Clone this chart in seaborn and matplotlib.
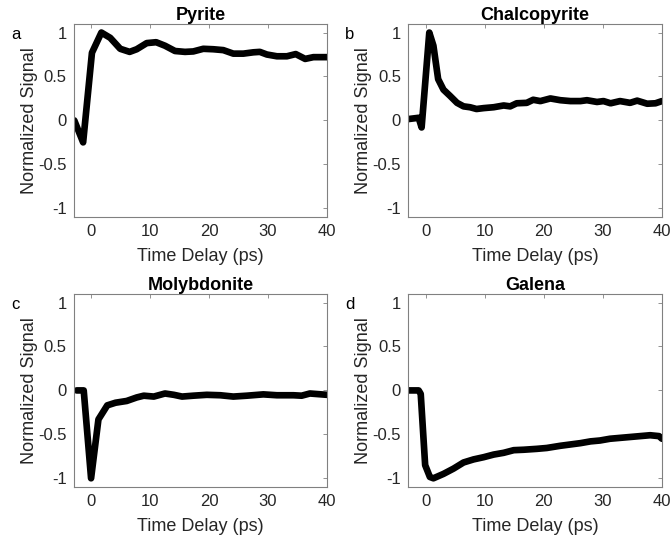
import matplotlib
matplotlib.use("Agg")
import matplotlib.pyplot as plt
import seaborn as sns
import pandas as pd

# ---------------------------------------------------------------------------
# values
pyrite_t = [-2.9, -1.4, 0.1, 1.7, 3.2, 4.9, 6.5, 7.7, 9.4, 11.0, 12.5, 14.2, 15.9,
            17.3, 19.0, 20.7, 22.4, 24.1, 25.8, 27.5, 28.6, 29.8, 31.5, 33.2, 34.7,
            36.3, 37.7, 40.0]
pyrite_s = [0.0, -0.25, 0.77, 1.0, 0.94, 0.815, 0.78, 0.81, 0.88, 0.89, 0.85, 0.79,
            0.78, 0.785, 0.815, 0.81, 0.80, 0.76, 0.76, 0.775, 0.78, 0.75, 0.73,
            0.73, 0.755, 0.70, 0.72, 0.72]

chalco_t = [-3.0, -1.2, -0.7, 0.6, 1.3, 2.1, 3.0, 4.1, 5.3, 6.4, 7.5, 8.6, 9.8,
            11.5, 13.2, 14.3, 15.4, 17.1, 18.2, 19.4, 21.1, 22.8, 24.5, 26.2,
            27.3, 29.0, 30.1, 31.3, 32.9, 34.6, 35.8, 37.5, 38.9, 40.0]
chalco_s = [0.015, 0.03, -0.08, 1.0, 0.85, 0.47, 0.35, 0.28, 0.2, 0.16, 0.15, 0.13,
            0.14, 0.15, 0.17, 0.16, 0.195, 0.2, 0.235, 0.22, 0.25, 0.23, 0.22,
            0.22, 0.23, 0.21, 0.22, 0.195, 0.22, 0.2, 0.225, 0.19, 0.195, 0.22]

molyb_t = [-2.5, -1.3, -0.05, 1.2, 2.7, 4.1, 6.0, 7.7, 8.9, 10.6, 12.5, 14.0, 15.4,
           17.3, 19.6, 21.9, 24.1, 26.4, 29.2, 31.5, 34.3, 35.7, 37.1, 40.0]
molyb_s = [0.0, 0.0, -1.0, -0.33, -0.17, -0.14, -0.12, -0.08, -0.06, -0.07, -0.035,
           -0.05, -0.07, -0.06, -0.05, -0.055, -0.07, -0.06, -0.045, -0.055,
           -0.055, -0.06, -0.035, -0.05]

galena_t = [-3.0, -1.2, -0.85, -0.1, 0.7, 1.3, 3.0, 4.7, 6.4, 8.1, 9.8, 11.5, 13.2,
            14.9, 16.6, 18.8, 20.5, 22.8, 24.5, 26.2, 27.9, 29.5, 31.2, 32.9, 34.6,
            36.3, 38.0, 39.5, 40.0]
galena_s = [0.0, 0.0, -0.04, -0.85, -0.985, -1.0, -0.95, -0.89, -0.82, -0.785,
            -0.76, -0.73, -0.71, -0.68, -0.675, -0.665, -0.655, -0.63, -0.615,
            -0.6, -0.58, -0.57, -0.55, -0.54, -0.53, -0.52, -0.51, -0.52, -0.55]

titles = ["Pyrite", "Chalcopyrite", "Molybdonite", "Galena"]
letters = ["a", "b", "c", "d"]
series = [(pyrite_t, pyrite_s), (chalco_t, chalco_s),
          (molyb_t, molyb_s), (galena_t, galena_s)]

# ---------------------------------------------------------------------------
sns.set_style("white")
plt.rcParams["font.family"] = ["Liberation Sans", "DejaVu Sans"]

fig = plt.figure(figsize=(6.7, 5.4), dpi=100)
boxes = [[0.110, 0.598, 0.378, 0.358], [0.609, 0.598, 0.379, 0.358],
         [0.110, 0.098, 0.378, 0.358], [0.609, 0.098, 0.379, 0.358]]

for box, (t, s), title, letter in zip(boxes, series, titles, letters):
    ax = fig.add_axes(box)
    df = pd.DataFrame({"t": t, "s": s})
    sns.lineplot(data=df, x="t", y="s", ax=ax, color="black", linewidth=4.8,
                 solid_joinstyle="round", solid_capstyle="round")
    ax.set_xlim(-3, 40)
    ax.set_ylim(-1.1, 1.1)
    ax.set_xticks([0, 10, 20, 30, 40])
    ax.set_yticks([-1, -0.5, 0, 0.5, 1])
    ax.set_yticklabels(["-1", "-0.5", "0", "0.5", "1"])
    ax.tick_params(direction="in", length=3, width=0.6, top=True, right=True,
                   labelsize=12, colors="#262626", color="#808080", pad=5)
    for sp in ax.spines.values():
        sp.set_color("#808080")
        sp.set_linewidth(0.8)
    ax.set_xlabel("Time Delay (ps)", fontsize=13, color="#262626", labelpad=6.5)
    ax.set_ylabel("Normalized Signal", fontsize=13, color="#262626", labelpad=0.5)
    ax.set_title(title, fontsize=13, fontweight="bold", color="black", pad=3)
    ax.text(-0.23, 0.943, letter, transform=ax.transAxes, fontsize=12,
            ha="center", va="center", color="black")

fig.savefig("out.png", dpi=100)
